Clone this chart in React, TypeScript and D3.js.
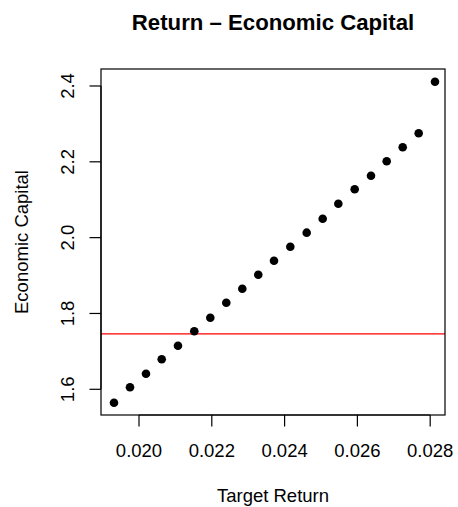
import React from "react";
import * as d3 from "d3";

const targetReturn = [
  0.019313, 0.019753, 0.020192, 0.020624, 0.021071, 0.021519, 0.021959,
  0.022398, 0.022838, 0.023277, 0.023709, 0.024157, 0.024607, 0.025047,
  0.025476, 0.025926, 0.026374, 0.026805, 0.027245, 0.027684, 0.028132,
];
const economicCapital = [
  1.5647, 1.6053, 1.6411, 1.6791, 1.715, 1.753, 1.7889, 1.8284, 1.8653,
  1.9023, 1.9392, 1.9761, 2.0131, 2.05, 2.0895, 2.1275, 2.1634, 2.2014,
  2.2383, 2.2752, 2.4113,
];
const xTicks = [0.02, 0.022, 0.024, 0.026, 0.028];
const yTicks = [1.6, 1.8, 2.0, 2.2, 2.4];
const refLevel = [1.746];
const title = "Return \u2013 Economic Capital";
const xLabel = "Target Return";
const yLabel = "Economic Capital";

const W = 458;
const H = 507;
const left = 101;
const right = 445;
const top = 69;
const bottom = 415;
const font = "'Liberation Sans', Arial, Helvetica, sans-serif";
const fs = 18.5;

export default function App() {
  const x = d3.scaleLinear().domain([0.018956, 0.028407]).range([left, right]);
  const y = d3.scaleLinear().domain([1.5322, 2.4448]).range([bottom, top]);
  const tickLen = 11.5;
  return (
    <svg
      width={W}
      height={H}
      style={{ position: "absolute", left: 0, top: 0, background: "#fff" }}
      fontFamily={font}
    >
      <rect x={0} y={0} width={W} height={H} fill="#fff" />
      <text x={(left + right) / 2} y={30} textAnchor="middle" fontWeight="bold" fontSize={22.2}>
        {title}
      </text>
      {refLevel.map((v, i) => (
        <line key={i} x1={left} x2={right} y1={y(v)} y2={y(v)} stroke="#ff0000" strokeWidth={1.2} />
      ))}
      {targetReturn.map((v, i) => (
        <circle key={i} cx={x(v)} cy={y(economicCapital[i])} r={4.3} fill="#000" />
      ))}
      <rect x={left} y={top} width={right - left} height={bottom - top} fill="none" stroke="#000" strokeWidth={1.2} />
      {/* x axis */}
      <line x1={x(xTicks[0])} x2={x(xTicks[xTicks.length - 1])} y1={bottom} y2={bottom} stroke="#000" strokeWidth={1.2} />
      {xTicks.map((t) => (
        <g key={t}>
          <line x1={x(t)} x2={x(t)} y1={bottom} y2={bottom + tickLen} stroke="#000" strokeWidth={1.2} />
          <text x={x(t)} y={457} textAnchor="middle" fontSize={fs}>
            {d3.format(".3f")(t)}
          </text>
        </g>
      ))}
      <text x={(left + right) / 2} y={502} textAnchor="middle" fontSize={fs}>
        {xLabel}
      </text>
      {/* y axis */}
      <line x1={left} x2={left} y1={y(yTicks[0])} y2={y(yTicks[yTicks.length - 1])} stroke="#000" strokeWidth={1.2} />
      {yTicks.map((t) => (
        <g key={t}>
          <line x1={left - tickLen} x2={left} y1={y(t)} y2={y(t)} stroke="#000" strokeWidth={1.2} />
          <text transform={`translate(74,${y(t)}) rotate(-90)`} textAnchor="middle" fontSize={fs}>
            {d3.format(".1f")(t)}
          </text>
        </g>
      ))}
      <text transform={`translate(28,${(top + bottom) / 2}) rotate(-90)`} textAnchor="middle" fontSize={fs}>
        {yLabel}
      </text>
    </svg>
  );
}
